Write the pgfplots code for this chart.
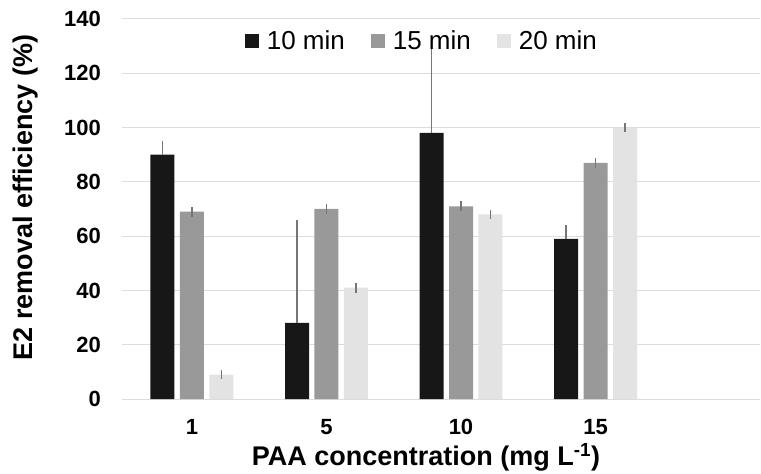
\documentclass[border=0pt]{standalone}
\usepackage{pgfplots}
\pgfplotsset{compat=1.18}
\usepackage{fontspec}
\setmainfont{Liberation Sans}
\definecolor{c1}{HTML}{171717}
\definecolor{c2}{HTML}{999999}
\definecolor{c3}{HTML}{E3E3E3}
\definecolor{errc}{HTML}{767676}
\definecolor{gridc}{HTML}{DCDCDC}
\pgfplotsset{sqleg/.style={legend image code/.code={\fill[##1,draw=none] (0pt,-7pt) rectangle (14pt,7pt);}}}
\begin{document}
\begin{tikzpicture}
\useasboundingbox (-122pt,-75pt) rectangle (639pt,399pt);
\begin{axis}[
  at={(0pt,0pt)}, anchor=south west,
  scale only axis, width=638pt, height=380pt,
  xmin=-0.5204, xmax=4.2230, ymin=0, ymax=140,
  bar width=24pt,
  xtick={0,1,2,3}, xticklabels={1,5,10,15},
  ytick={0,20,...,140},
  major tick length=0pt,
  axis line style={draw=none},
  ymajorgrids, grid style={gridc, line width=1pt},
  /pgf/number format/assume math mode=true,
  tick label style={font=\fontsize{22}{26}\selectfont\bfseries},
  yticklabel style={inner sep=0pt, xshift=-21pt},
  xticklabel style={inner sep=0pt, yshift=-20pt},
  xlabel={\fontsize{27}{30}\selectfont\bfseries PAA concentration (mg L\textsuperscript{-1})},
  ylabel={\fontsize{27}{30}\selectfont\bfseries E2 removal efficiency (\%)},
  xlabel style={at={(axis description cs:0.4765,-0.1526)}, anchor=center, inner sep=0pt},
  ylabel style={at={(axis description cs:-0.152,0.530)}, anchor=center, inner sep=0pt},
  legend style={at={(0.47,0.942)}, anchor=center, draw=none, fill=none,
    legend columns=-1, font=\fontsize{26}{30}\selectfont,
    /tikz/every odd column/.append style={column sep=6pt},
    /tikz/every even column/.append style={column sep=24pt}},
  error bars/error bar style={errc, line width=1.1pt},
  error bars/error mark=|,
  error bars/error mark options={errc, line width=1.1pt, mark size=2.2pt, rotate=90},
]
\addplot[ybar, bar shift=0pt, fill=c1, draw=none, sqleg,
  error bars/.cd, y dir=plus, y explicit]
  coordinates {(-0.2193,90) +- (0,4.2) (0.7807,28) +- (0,37) (1.7807,98) +- (0,32) (2.7807,59) +- (0,4.2)};
\addlegendentry{10 min}
\addplot[ybar, bar shift=0pt, fill=c2, draw=none, sqleg,
  error bars/.cd, y dir=both, y explicit]
  coordinates {(0,69) +- (0,1.0) (1,70) +- (0,1.0) (2,71) +- (0,1.0) (3,87) +- (0,1.0)};
\addlegendentry{15 min}
\addplot[ybar, bar shift=0pt, fill=c3, draw=none, sqleg,
  error bars/.cd, y dir=both, y explicit]
  coordinates {(0.2193,9) +- (0,1.0) (1.2193,41) +- (0,1.0) (2.2193,68) +- (0,1.0) (3.2193,100) +- (0,1.0)};
\addlegendentry{20 min}
\end{axis}
\end{tikzpicture}
\end{document}
